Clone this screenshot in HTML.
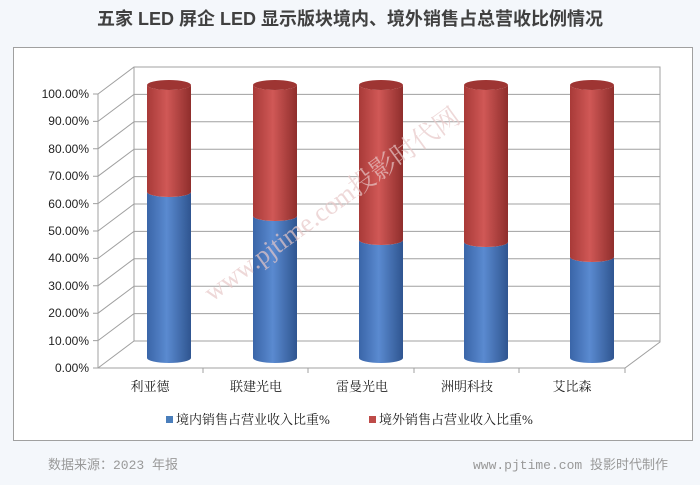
<!DOCTYPE html>
<html><head><meta charset="utf-8"><style>
body{margin:0;width:700px;height:480px;background:#f4f7fb;font-family:"Liberation Sans","Noto Sans CJK SC",sans-serif;overflow:hidden}
</style></head><body>
<svg width="700" height="480" xmlns="http://www.w3.org/2000/svg">
<defs>
<linearGradient id="b" x1="0" x2="1"><stop offset="0" stop-color="#3a65a8"/><stop offset="0.45" stop-color="#5a8ad0"/><stop offset="1" stop-color="#2f5590"/></linearGradient>
<linearGradient id="r" x1="0" x2="1"><stop offset="0" stop-color="#a83a38"/><stop offset="0.45" stop-color="#d05856"/><stop offset="1" stop-color="#8f2e2c"/></linearGradient>
</defs>
<text x="350" y="25" text-anchor="middle" font-size="18" font-weight="bold" fill="#404040" font-family="Liberation Sans,Noto Sans CJK SC,sans-serif">五家 LED 屏企 LED 显示版块境内、境外销售占总营收比例情况</text>
<rect x="13.5" y="47.5" width="679" height="393" fill="#fff" stroke="#a0a0a0"/>
<g stroke="#a0a0a0" fill="none" stroke-width="1">
<path d="M98,94 V368 H625 L660,342 V67 H134 L98,94"/>
<path d="M98,368 L134,341 H660"/><path d="M98,340.6 L134,313.6 H660"/><path d="M98,313.2 L134,286.2 H660"/><path d="M98,285.8 L134,258.8 H660"/><path d="M98,258.4 L134,231.4 H660"/><path d="M98,231 L134,204 H660"/><path d="M98,203.6 L134,176.6 H660"/><path d="M98,176.2 L134,149.2 H660"/><path d="M98,148.8 L134,121.8 H660"/><path d="M98,121.4 L134,94.4 H660"/>
<path d="M134,67 V341"/>
<path d="M93,368H98M93,340.6H98M93,313.2H98M93,285.8H98M93,258.4H98M93,231H98M93,203.6H98M93,176.2H98M93,148.8H98M93,121.4H98M93,94H98"/>
<path d="M203,368v5M308,368v5M414,368v5M519,368v5M625,368v5"/>
</g>
<g font-size="12" fill="#222" text-anchor="end">
<text x="89" y="372">0.00%</text><text x="89" y="345">10.00%</text><text x="89" y="317">20.00%</text><text x="89" y="290">30.00%</text><text x="89" y="262">40.00%</text><text x="89" y="235">50.00%</text><text x="89" y="208">60.00%</text><text x="89" y="180">70.00%</text><text x="89" y="153">80.00%</text><text x="89" y="125">90.00%</text><text x="89" y="98">100.00%</text>
</g>
<g>
<path d="M147,358 V192 A22,5 0 0 0 191,192 V358 A22,5 0 0 1 147,358Z" fill="url(#b)"/>
<path d="M147,192 V85 A22,5 0 0 0 191,85 V192 A22,5 0 0 1 147,192Z" fill="url(#r)"/>
<ellipse cx="169" cy="85" rx="22" ry="5" fill="#9e3533"/>
<path d="M253,358 V216 A22,5 0 0 0 297,216 V358 A22,5 0 0 1 253,358Z" fill="url(#b)"/>
<path d="M253,216 V85 A22,5 0 0 0 297,85 V216 A22,5 0 0 1 253,216Z" fill="url(#r)"/>
<ellipse cx="275" cy="85" rx="22" ry="5" fill="#9e3533"/>
<path d="M359,358 V240 A22,5 0 0 0 403,240 V358 A22,5 0 0 1 359,358Z" fill="url(#b)"/>
<path d="M359,240 V85 A22,5 0 0 0 403,85 V240 A22,5 0 0 1 359,240Z" fill="url(#r)"/>
<ellipse cx="381" cy="85" rx="22" ry="5" fill="#9e3533"/>
<path d="M464,358 V242 A22,5 0 0 0 508,242 V358 A22,5 0 0 1 464,358Z" fill="url(#b)"/>
<path d="M464,242 V85 A22,5 0 0 0 508,85 V242 A22,5 0 0 1 464,242Z" fill="url(#r)"/>
<ellipse cx="486" cy="85" rx="22" ry="5" fill="#9e3533"/>
<path d="M570,358 V257 A22,5 0 0 0 614,257 V358 A22,5 0 0 1 570,358Z" fill="url(#b)"/>
<path d="M570,257 V85 A22,5 0 0 0 614,85 V257 A22,5 0 0 1 570,257Z" fill="url(#r)"/>
<ellipse cx="592" cy="85" rx="22" ry="5" fill="#9e3533"/>
</g>
<g font-size="13" fill="#222" text-anchor="middle" font-family="Liberation Serif,Noto Serif CJK SC,serif">
<text x="150" y="391">利亚德</text><text x="256" y="391">联建光电</text><text x="362" y="391">雷曼光电</text><text x="467" y="391">洲明科技</text><text x="572" y="391">艾比森</text>
</g>
<rect x="166" y="416" width="7" height="7" fill="#4a7ebb"/>
<text x="176" y="424" font-size="13" fill="#222" font-family="Liberation Serif,Noto Serif CJK SC,serif">境内销售占营业收入比重%</text>
<rect x="369" y="416" width="7" height="7" fill="#be4b48"/>
<text x="379" y="424" font-size="13" fill="#222" font-family="Liberation Serif,Noto Serif CJK SC,serif">境外销售占营业收入比重%</text>
<text x="0" y="0" font-size="26" fill="#e8c8c8" opacity="0.7" transform="translate(212,302) rotate(-36)" font-family="Liberation Serif,Noto Serif CJK SC,serif">www.pjtime.com投影时代网</text>
<text x="48" y="469" font-size="13" fill="#999" font-family="Liberation Mono,Noto Sans CJK SC,monospace">数据来源：2023 年报</text>
<text x="668" y="469" font-size="13" fill="#999" text-anchor="end" font-family="Liberation Mono,Noto Sans CJK SC,monospace">www.pjtime.com 投影时代制作</text>
</svg>
</body></html>
